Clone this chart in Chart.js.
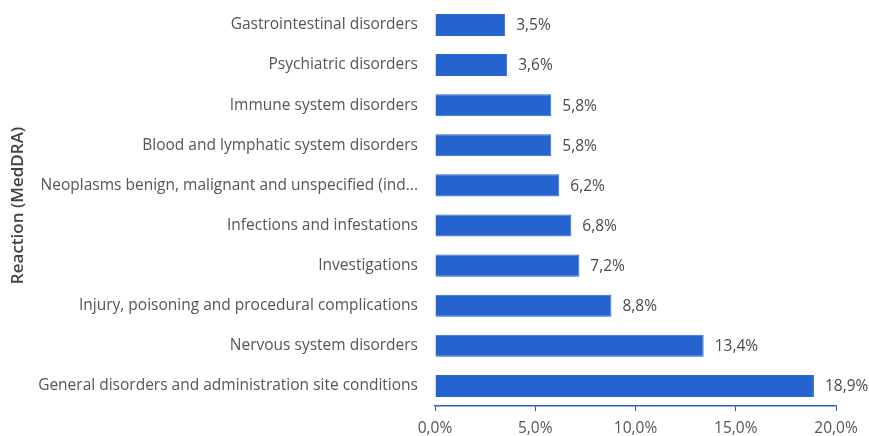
<!DOCTYPE html>
<html>
<head>
<meta charset="utf-8">
<script src="https://cdn.jsdelivr.net/npm/chart.js@4"></script>
<style>
  html, body { margin: 0; padding: 0; background: #fff; }
  #wrap { width: 869px; height: 436px; }
</style>
</head>
<body>
<div id="wrap"><canvas id="barChart" width="869" height="436"></canvas></div>
<script>
const reactions = [
  'Gastrointestinal disorders',
  'Psychiatric disorders',
  'Immune system disorders',
  'Blood and lymphatic system disorders',
  'Neoplasms benign, malignant and unspecified (ind...',
  'Infections and infestations',
  'Investigations',
  'Injury, poisoning and procedural complications',
  'Nervous system disorders',
  'General disorders and administration site conditions'
];
const percentages = [3.5, 3.6, 5.8, 5.8, 6.2, 6.8, 7.2, 8.8, 13.4, 18.9];
const xTicks = [0, 5, 10, 15, 20];

const fmt = v => v.toFixed(1).replace('.', ',') + '%';
const FONT = '"Open Sans", Lato, sans-serif';

// rótulos de valor à direita das barras
const valueLabels = {
  id: 'valueLabels',
  afterDatasetsDraw(chart) {
    const ctx = chart.ctx;
    const meta = chart.getDatasetMeta(0);
    ctx.save();
    ctx.font = '15.5px ' + FONT;
    ctx.fillStyle = '#4a4a4a';
    ctx.textAlign = 'left';
    ctx.textBaseline = 'middle';
    meta.data.forEach((bar, i) => {
      ctx.fillText(fmt(percentages[i]), bar.x + 11, bar.y + 1);
    });
    ctx.restore();
  }
};

new Chart(document.getElementById('barChart'), {
  type: 'bar',
  data: {
    labels: reactions,
    datasets: [{
      data: percentages,
      backgroundColor: '#2563cf',
      borderColor: '#2f68c8',
      borderWidth: 1,
      barPercentage: 0.55,
      categoryPercentage: 1
    }]
  },
  options: {
    indexAxis: 'y',
    responsive: false,
    animation: false,
    layout: { padding: { top: 4, right: 33, bottom: 0, left: 0 } },
    plugins: { legend: { display: false }, tooltip: { enabled: false } },
    scales: {
      x: {
        min: 0,
        max: 20,
        afterBuildTicks: axis => { axis.ticks = xTicks.map(v => ({ value: v })); },
        afterFit: axis => { axis.height = 30; },
        border: { display: true, color: '#2f5fbf', width: 1.5 },
        grid: { drawOnChartArea: false, drawTicks: true, tickLength: 5, color: '#2f5fbf' },
        ticks: {
          color: '#555',
          font: { family: FONT, size: 15.5 },
          padding: 8,
          maxRotation: 0,
          callback: v => fmt(v)
        }
      },
      y: {
        afterFit: axis => { axis.width = 435; },
        border: { display: false },
        grid: { display: true, drawOnChartArea: false, drawTicks: true, tickLength: 16, color: 'rgba(0,0,0,0)' },
        ticks: {
          color: '#555',
          font: { family: FONT, size: 15.5, lineHeight: 0.5 },
          padding: 1,
          autoSkip: false
        },
        title: {
          display: true,
          text: 'Reaction (MedDRA)',
          color: '#444',
          font: { family: FONT, size: 17, weight: '600' },
          padding: { top: 8, bottom: 0 }
        }
      }
    }
  },
  plugins: [valueLabels]
});
</script>
</body>
</html>
